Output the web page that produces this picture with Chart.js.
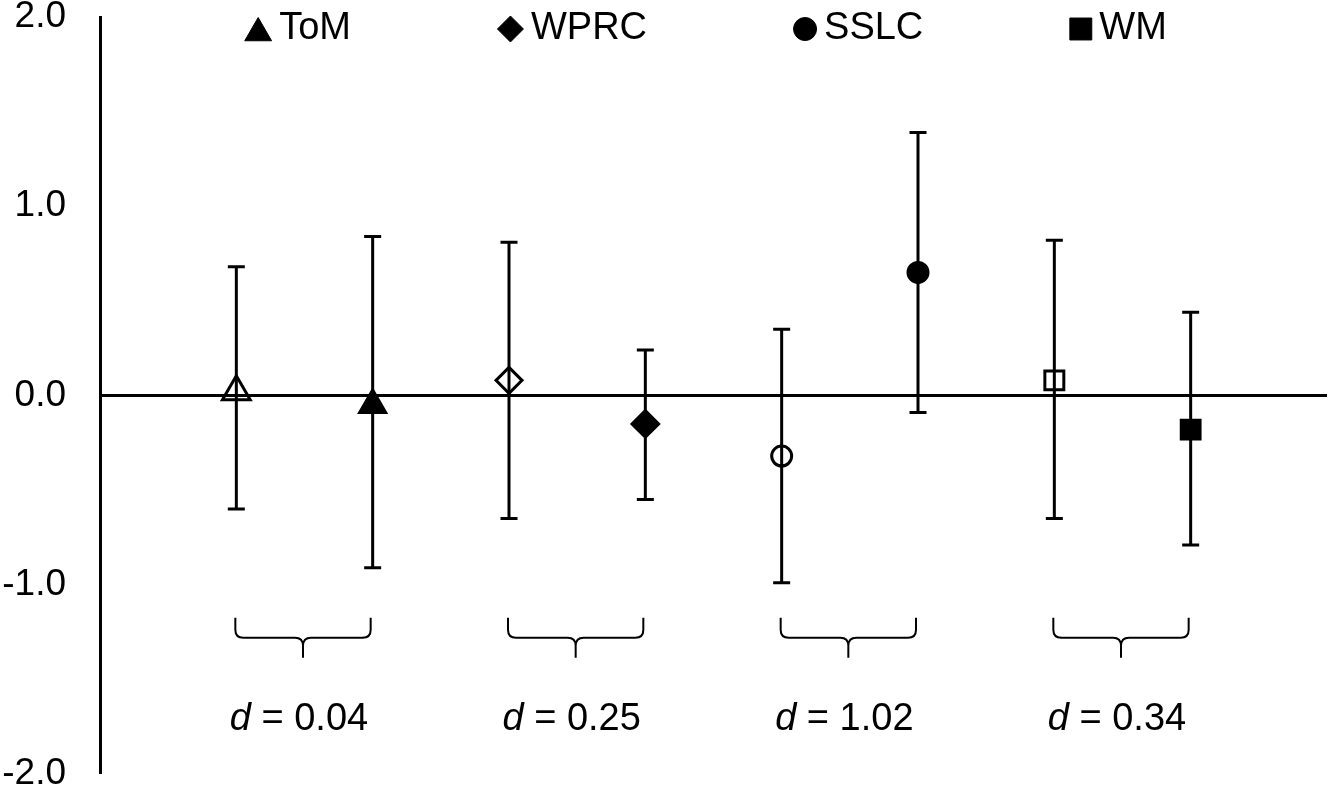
<!DOCTYPE html>
<html>
<head>
<meta charset="utf-8">
<title>Effect sizes by measure</title>
<script src="https://cdn.jsdelivr.net/npm/chart.js@4.4.1/dist/chart.umd.min.js"></script>
<style>
  html, body { margin: 0; padding: 0; background: #fff; }
  canvas { display: block; }
</style>
</head>
<body>
<canvas id="chart" width="1328" height="788"></canvas>
<script>
// measures, shown as pairs (open marker = first group, filled = second group)
var measures = ['ToM', 'WPRC', 'SSLC', 'WM'];
var markerStyles = ['triangle', 'rectRot', 'circle', 'rect'];

var openMean = [0.02, 0.08, -0.32, 0.08];
var openHigh = [0.68, 0.81, 0.35, 0.82];
var openLow = [-0.60, -0.65, -0.99, -0.65];

var filledMean = [-0.05, -0.15, 0.65, -0.18];
var filledHigh = [0.84, 0.24, 1.39, 0.44];
var filledLow = [-0.91, -0.55, -0.09, -0.79];

var effectSizes = ['0.04', '0.25', '1.02', '0.34'];
var yTicks = [-2, -1, 0, 1, 2];

var FONT = "'Liberation Sans', Arial, sans-serif";

// marker radii per style (chart points / legend)
var openRadius = { triangle: 16, rectRot: 13, circle: 10, rect: 13.4 };
var filledRadius = { triangle: 16, rectRot: 14, circle: 10.5, rect: 14 };
var legendRadius = { triangle: 15.5, rectRot: 13, circle: 11.5, rect: 15.5 };
var legendWidth = { triangle: 28, rectRot: 27, circle: 24, rect: 23 };

function pointsFor(means, offset) {
    return means.map(function (v, i) { return { x: i * 2 + offset, y: v }; });
}

var errorBars = {
    id: 'errorBars',
    beforeDatasetsDraw: function (chart) {
        var ctx = chart.ctx, xs = chart.scales.x, ys = chart.scales.y;
        var groups = [[openLow, openHigh, 1], [filledLow, filledHigh, 2]];
        ctx.save();
        ctx.strokeStyle = '#000';
        ctx.lineWidth = 3;
        groups.forEach(function (g) {
            measures.forEach(function (m, i) {
                var px = xs.getPixelForValue(i * 2 + g[2]);
                var lo = ys.getPixelForValue(g[0][i]);
                var hi = ys.getPixelForValue(g[1][i]);
                ctx.beginPath();
                ctx.moveTo(px, lo); ctx.lineTo(px, hi);
                ctx.moveTo(px - 8.5, lo); ctx.lineTo(px + 8.5, lo);
                ctx.moveTo(px - 8.5, hi); ctx.lineTo(px + 8.5, hi);
                ctx.stroke();
            });
        });
        ctx.restore();
    }
};

var annotations = {
    id: 'annotations',
    afterDraw: function (chart) {
        var ctx = chart.ctx, xs = chart.scales.x, ys = chart.scales.y;
        var area = chart.chartArea;
        ctx.save();

        // braces and effect sizes under each pair
        var top = ys.getPixelForValue(-1.175);
        var depth = 20, r = 8;
        ctx.strokeStyle = '#000';
        ctx.lineWidth = 2;
        effectSizes.forEach(function (d, i) {
            var xl = xs.getPixelForValue(i * 2 + 1) - 1;
            var xr = xs.getPixelForValue(i * 2 + 2) - 2;
            var cx = (xl + xr) / 2;
            var mid = top + depth;
            ctx.beginPath();
            ctx.moveTo(xl, top);
            ctx.lineTo(xl, mid - r);
            ctx.quadraticCurveTo(xl, mid, xl + r, mid);
            ctx.lineTo(cx - r, mid);
            ctx.quadraticCurveTo(cx, mid, cx, mid + r);
            ctx.lineTo(cx, mid + depth);
            ctx.moveTo(xr, top);
            ctx.lineTo(xr, mid - r);
            ctx.quadraticCurveTo(xr, mid, xr - r, mid);
            ctx.lineTo(cx + r, mid);
            ctx.quadraticCurveTo(cx, mid, cx, mid + r);
            ctx.stroke();

            var base = ys.getPixelForValue(-1.767);
            ctx.fillStyle = '#000';
            ctx.textBaseline = 'alphabetic';
            ctx.textAlign = 'left';
            ctx.font = 'italic 38px ' + FONT;
            var wd = ctx.measureText('d').width;
            ctx.font = '38px ' + FONT;
            var rest = ' = ' + d;
            var wr = ctx.measureText(rest).width;
            var sx = cx - (wd + wr) / 2 - 4;
            ctx.font = 'italic 38px ' + FONT;
            ctx.fillText('d', sx, base);
            ctx.font = '38px ' + FONT;
            ctx.fillText(rest, sx + wd, base);
        });

        // legend across the top
        ctx.font = '38px ' + FONT;
        var gapMarker = 7, gapItem = 146;
        var items = measures.map(function (m, i) {
            var st = markerStyles[i];
            return { label: m, style: st, mw: legendWidth[st], tw: ctx.measureText(m).width };
        });
        var total = items.reduce(function (s, it) { return s + it.mw + gapMarker + it.tw; }, 0) + gapItem * (items.length - 1);
        var x = (area.left + area.right) / 2 - 8 - total / 2;
        var ly = 29;
        items.forEach(function (it) {
            var opts = { pointStyle: it.style, radius: legendRadius[it.style], rotation: 0, borderWidth: 1 };
            ctx.fillStyle = '#000';
            ctx.strokeStyle = '#000';
            ctx.lineWidth = 1;
            var my = it.style === 'triangle' ? ly + 4 : ly;
            Chart.helpers.drawPoint(ctx, opts, x + it.mw / 2, my);
            ctx.fillStyle = '#000';
            ctx.textBaseline = 'middle';
            ctx.textAlign = 'left';
            ctx.fillText(it.label, x + it.mw + gapMarker, ly);
            x += it.mw + gapMarker + it.tw + gapItem;
        });
        ctx.restore();
    }
};

new Chart(document.getElementById('chart'), {
    type: 'scatter',
    data: {
        datasets: [
            {
                label: 'open',
                data: pointsFor(openMean, 1),
                pointStyle: markerStyles,
                pointRadius: markerStyles.map(function (s) { return openRadius[s]; }),
                pointBackgroundColor: 'rgba(0,0,0,0)',
                pointBorderColor: '#000',
                pointBorderWidth: 3
            },
            {
                label: 'filled',
                data: pointsFor(filledMean, 2),
                pointStyle: markerStyles,
                pointRadius: markerStyles.map(function (s) { return filledRadius[s]; }),
                pointBackgroundColor: '#000',
                pointBorderColor: '#000',
                pointBorderWidth: 2
            }
        ]
    },
    options: {
        responsive: false,
        animation: false,
        devicePixelRatio: 1,
        layout: { autoPadding: false, padding: { top: 17, bottom: 14, right: 1, left: 0 } },
        plugins: {
            legend: { display: false },
            tooltip: { enabled: false }
        },
        scales: {
            x: {
                type: 'linear',
                min: 0,
                max: 9,
                display: false
            },
            y: {
                type: 'linear',
                min: yTicks[0],
                max: yTicks[yTicks.length - 1],
                afterFit: function (scale) {
                    scale.width = 100;
                    scale.paddingTop = 0;
                    scale.paddingBottom = 0;
                },
                afterBuildTicks: function (scale) {
                    scale.ticks = yTicks.map(function (v) { return { value: v }; });
                },
                border: { display: true, color: '#000', width: 3 },
                grid: {
                    drawTicks: false,
                    color: function (c) { return c.tick && c.tick.value === 0 ? '#000' : 'rgba(0,0,0,0)'; },
                    lineWidth: function (c) { return c.tick && c.tick.value === 0 ? 3 : 0; }
                },
                ticks: {
                    padding: 34,
                    color: '#000',
                    font: { family: FONT, size: 37 },
                    callback: function (v) { return v.toFixed(1); }
                }
            }
        }
    },
    plugins: [errorBars, annotations]
});
</script>
</body>
</html>
